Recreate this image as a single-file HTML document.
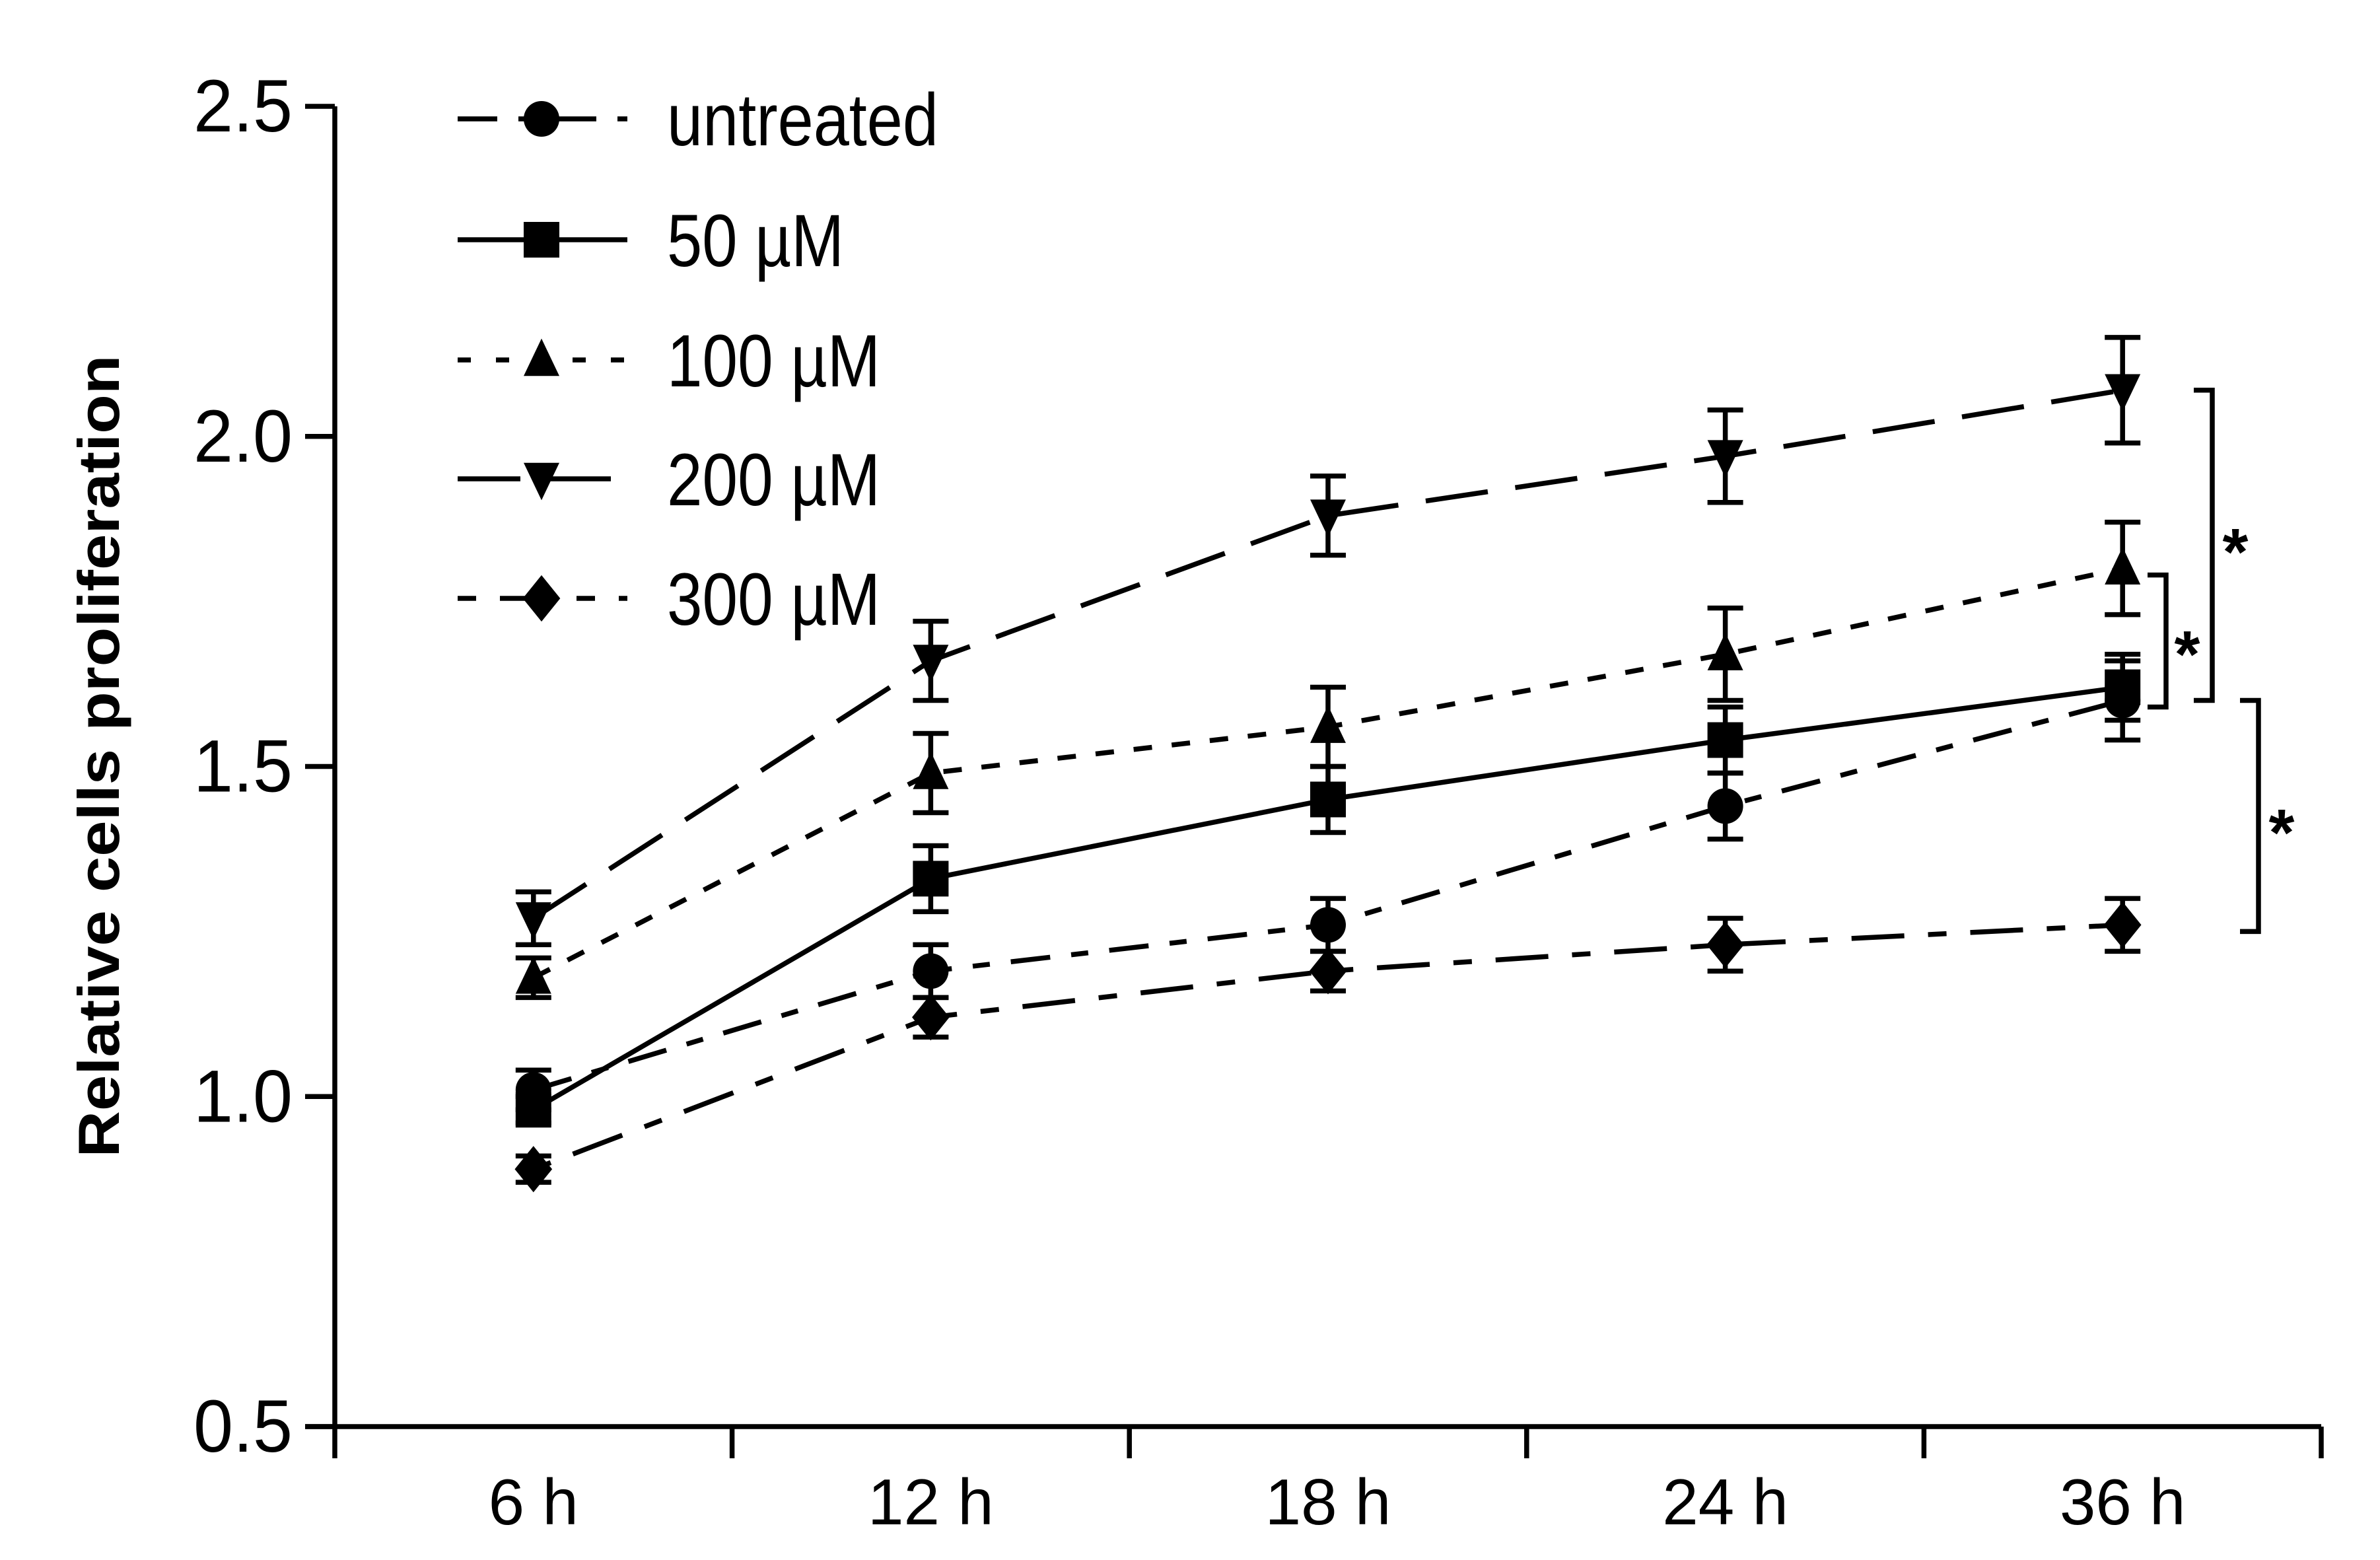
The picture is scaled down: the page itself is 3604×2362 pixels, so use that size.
<!DOCTYPE html>
<html><head><meta charset="utf-8"><style>
html,body{margin:0;padding:0;background:#fff;}
svg{display:block;}
text{font-family:"Liberation Sans",sans-serif;fill:#000;}
</style></head><body>
<svg id="chart" width="3604" height="2362" viewBox="0 0 3604 2362" xmlns="http://www.w3.org/2000/svg">
<g id="axes"></g>
<g id="series"></g>
<g id="legend"></g>
<g id="sig"></g>
</svg>
<script>
const categories = ["6 h","12 h","18 h","24 h","36 h"];
const yTicks = [0.5,1.0,1.5,2.0,2.5];
const seriesNames = ["untreated","50 µM","100 µM","200 µM","300 µM"];
const untreated = [1.01,1.19,1.26,1.44,1.60];
const untreatedErr = [0.03,0.04,0.04,0.05,0.06];
const um50 = [0.98,1.33,1.45,1.54,1.62];
const um50Err = [0.02,0.05,0.05,0.05,0.05];
const um100 = [1.18,1.49,1.56,1.67,1.80];
const um100Err = [0.03,0.06,0.06,0.07,0.07];
const um200 = [1.27,1.66,1.88,1.97,2.07];
const um200Err = [0.04,0.06,0.06,0.07,0.08];
const um300 = [0.89,1.12,1.19,1.23,1.26];
const um300Err = [0.02,0.03,0.03,0.04,0.04];

const NS="http://www.w3.org/2000/svg";
const L=507,R=3515,T=161,B=2160,ymin=0.5,ymax=2.5;
const band=(R-L)/categories.length;
function xs(i){return L+band*(i+0.5);}
function ys(v){return B-(v-ymin)/(ymax-ymin)*(B-T);}
function mk(tag,attrs,parent){const e=document.createElementNS(NS,tag);for(const k in attrs)e.setAttribute(k,attrs[k]);parent.appendChild(e);return e;}
const axes=document.getElementById('axes');
const sg=document.getElementById('series');
const lg=document.getElementById('legend');
const sig=document.getElementById('sig');
const SW=7.5;

let ya=mk('line',{x1:L,y1:T,x2:L,y2:B+48,stroke:'#000','stroke-width':SW},axes);


let xa=mk('line',{x1:L-45,y1:B,x2:R,y2:B,stroke:'#000','stroke-width':SW},axes);


yTicks.forEach(v=>{
  const t=mk('line',{x1:L-45,y1:ys(v),x2:L,y2:ys(v),stroke:'#000','stroke-width':SW},axes);
  
  
  const lb=mk('text',{x:443,y:ys(v)+38,'text-anchor':'end','font-size':112,textLength:150,lengthAdjust:'spacingAndGlyphs'},axes);
  lb.textContent=v.toFixed(1);
  
  
});
for(let i=1;i<=categories.length;i++){
  const t=mk('line',{x1:L+band*i,y1:B,x2:L+band*i,y2:B+48,stroke:'#000','stroke-width':SW},axes);
  
  
}
categories.forEach((c,i)=>{
  const lb=mk('text',{x:xs(i),y:2308,'text-anchor':'middle','font-size':98},axes);
  lb.textContent=c;
  
  
});
const yt=mk('text',{x:0,y:0,'text-anchor':'middle','font-size':88,'font-weight':'bold',textLength:1215,lengthAdjust:'spacingAndGlyphs',transform:'translate(180,1145) rotate(-90)'},axes);
yt.textContent='Relative cells proliferation';



function marker(type,cx,cy,parent,s){
  s=s||27;let e;
  if(type==='circle') e=mk('circle',{cx:cx,cy:cy,r:s},parent);
  else if(type==='square') e=mk('rect',{x:cx-s,y:cy-s,width:2*s,height:2*s},parent);
  else if(type==='up') e=mk('polygon',{points:`${cx},${cy-s*1.2} ${cx+s},${cy+s*0.9} ${cx-s},${cy+s*0.9}`},parent);
  else if(type==='down') e=mk('polygon',{points:`${cx},${cy+s*1.2} ${cx+s},${cy-s*0.9} ${cx-s},${cy-s*0.9}`},parent);
  else e=mk('polygon',{points:`${cx},${cy-s*1.3} ${cx+s*1.05},${cy} ${cx},${cy+s*1.3} ${cx-s*1.05},${cy}`},parent);
  e.setAttribute('fill','#000');
  return e;
}
const series=[
  {name:seriesNames[0],vals:untreated,err:untreatedErr,m:'circle',dash:'60 32 26 32'},
  {name:seriesNames[1],vals:um50,err:um50Err,m:'square',dash:'none'},
  {name:seriesNames[2],vals:um100,err:um100Err,m:'up',dash:'28 30'},
  {name:seriesNames[3],vals:um200,err:um200Err,m:'down',dash:'95 42'},
  {name:seriesNames[4],vals:um300,err:um300Err,m:'diamond',dash:'28 36 80 36'}
];
series.forEach((s,si)=>{
  const g=mk('g',{},sg);
  
  
  const pts=s.vals.map((v,i)=>xs(i)+','+ys(v)).join(' ');
  const pl=mk('polyline',{points:pts,fill:'none',stroke:'#000','stroke-width':SW,'stroke-dasharray':s.dash},g);
  
  
  s.vals.forEach((v,i)=>{
    const x=xs(i),hi=ys(v+s.err[i]),lo=ys(v-s.err[i]);
    const eb=mk('path',{d:`M${x},${hi}V${lo}M${x-27},${hi}H${x+27}M${x-27},${lo}H${x+27}`,stroke:'#000','stroke-width':SW,fill:'none'},g);
    
    
    const m=marker(s.m,x,ys(v),g);
    
    
  });
  const ly=[180,363,545,725,906][si];
  const le=mk('g',{},lg);
  
  
  mk('line',{x1:693,y1:ly,x2:950,y2:ly,stroke:'#000','stroke-width':SW,'stroke-dasharray':s.dash==='none'?'none':(si===2?'20 38':s.dash)},le);
  marker(s.m,820,ly,le);
  const tw=[411,268,323,323,323][si];
  const tx=mk('text',{x:1010,y:ly+40,'font-size':112,textLength:tw,lengthAdjust:'spacingAndGlyphs'},le);
  tx.textContent=s.name;
});

function bracket(x,y1,y2,sx,sy){
  const p=mk('path',{d:`M${x-28},${y1}H${x}V${y2}H${x-28}`,stroke:'#000','stroke-width':SW,fill:'none'},sig);
  
  
  const t=mk('text',{x:sx,y:sy,'font-size':100,'font-weight':'bold','text-anchor':'middle'},sig);
  t.textContent='*';
  
  
}
bracket(3350,ys(2.07),ys(1.60),3385,870);
bracket(3280,ys(1.79),ys(1.59),3312,1025);
bracket(3420,ys(1.60),ys(1.25),3455,1295);
</script>
</body></html>
